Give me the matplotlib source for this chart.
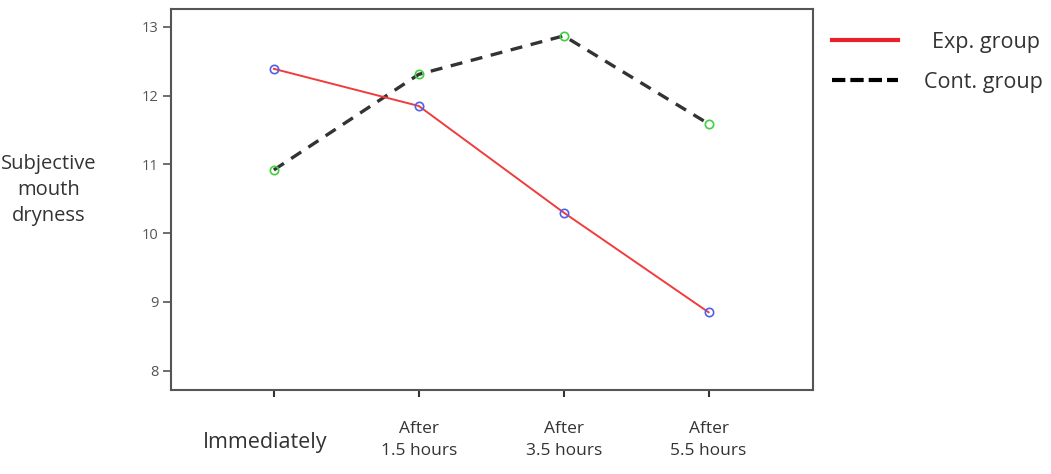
import matplotlib.pyplot as plt
from matplotlib.lines import Line2D
from matplotlib.transforms import offset_copy

plt.rcParams['font.family'] = ['Open Sans', 'DejaVu Sans']

times = ['Immediately', 'After\n1.5 hours', 'After\n3.5 hours', 'After\n5.5 hours']
exp_group = [12.39, 11.85, 10.30, 8.85]
cont_group = [10.92, 12.31, 12.87, 11.59]
yticks = [8, 9, 10, 11, 12, 13]

fig = plt.figure(figsize=(10.51, 4.74), dpi=100)
ax = fig.add_axes([0.1627, 0.1772, 0.6108, 0.8038])

x = list(range(len(times)))
ax.plot(x, exp_group, color='#f03c3c', lw=1.4, zorder=3)
ax.plot(x, exp_group, ls='none', marker='o', ms=6, mfc='none', mec='#5060e8', mew=1.2, zorder=4)
ax.plot(x, cont_group, color='#333333', lw=2.4, dashes=(3.6, 2.6), zorder=2)
ax.plot(x, cont_group, ls='none', marker='o', ms=6, mfc='none', mec='#40d040', mew=1.2, zorder=4)

ax.set_xlim(-0.71, 3.72)
ax.set_ylim(7.72, 13.26)
ax.set_yticks(yticks)
ax.set_xticks(x)
ax.set_xticklabels(times)

for s in ax.spines.values():
    s.set_color('#555555')
    s.set_linewidth(1.5)

ax.tick_params(axis='y', length=6, width=1.2, color='#555555', labelsize=10.5, labelcolor='#555555', pad=3)
ax.tick_params(axis='x', length=5, width=1.5, color='#333333', labelsize=12.5, labelcolor='#333333', pad=31)
for i, lab in enumerate(ax.get_xticklabels()):
    lab.set_va('center')
    lab.set_linespacing(1.55)
    if i == 0:
        lab.set_fontsize(15.5)
        lab.set_transform(offset_copy(lab.get_transform(), fig=fig, x=-9, y=-2, units='dots'))

fig.text(0.046, 0.599, 'Subjective\nmouth\ndryness', ha='center', va='center',
         fontsize=14.5, color='#333333', linespacing=1.4)

handles = [Line2D([], [], color='#e8202a', lw=3),
           Line2D([], [], color='black', lw=3, dashes=(3.2, 1.2))]
leg = fig.legend(handles, ['Exp. group', 'Cont. group'], loc='upper left',
                 bbox_to_anchor=(0.7735, 0.9735), frameon=False, handlelength=3.07,
                 handletextpad=1.2, labelspacing=0.88, fontsize=15.5, labelcolor='#333333')
# the reference centres its legend labels: nudge the shorter one right
leg.get_texts()[0].set_transform(offset_copy(leg.get_texts()[0].get_transform(),
                                             fig=fig, x=8, y=0, units='dots'))

fig.savefig('out.png', dpi=100)
